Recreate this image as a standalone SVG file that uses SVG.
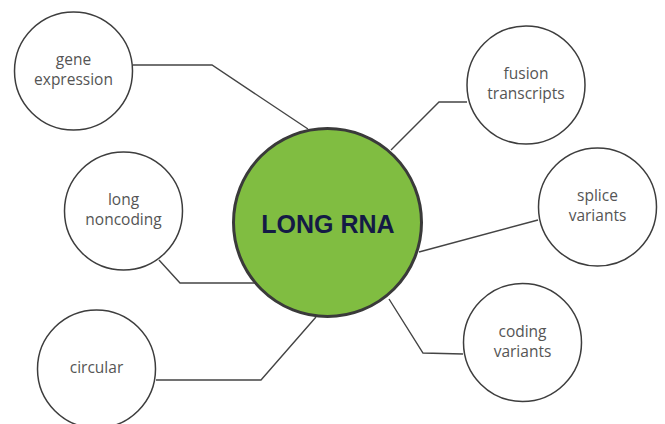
<svg xmlns="http://www.w3.org/2000/svg" width="665" height="424" viewBox="0 0 665 424">
<style>
.bubble{fill:#fff;stroke:#3d3d3d;stroke-width:1.5}
.hub{fill:#80bd41;stroke:#3a3a3a;stroke-width:3}
.lbl{font-family:"Open Sans","Liberation Sans",sans-serif;font-size:15.5px;fill:#555;text-anchor:middle}
.hubt{font-family:"Liberation Sans",Arial,sans-serif;font-size:25px;font-weight:bold;fill:#141a45;text-anchor:middle}
.con{fill:none;stroke:#444;stroke-width:1.4}
</style>
<rect width="665" height="424" fill="#fff"/>
<g id="connectors">
<polyline class="con" points="133,65 212,65 308,129"/>
<polyline class="con" points="159,260 180,283 255,283"/>
<polyline class="con" points="156,380 261,380 316,317"/>
<polyline class="con" points="391,150 439,102 467,102"/>
<polyline class="con" points="419,252 538,220"/>
<polyline class="con" points="389,299 423,353 463,354"/>
</g>
<g id="gene-expression">
<circle class="bubble" cx="73.5" cy="71" r="59"/>
<text class="lbl" x="73.5" y="65">gene</text>
<text class="lbl" x="73.5" y="85">expression</text>
</g>
<g id="long-noncoding">
<circle class="bubble" cx="123.5" cy="211" r="59"/>
<text class="lbl" x="123.5" y="205">long</text>
<text class="lbl" x="123.5" y="225">noncoding</text>
</g>
<g id="circular">
<circle class="bubble" cx="96.5" cy="369" r="59"/>
<text class="lbl" x="96.5" y="373">circular</text>
</g>
<g id="fusion-transcripts">
<circle class="bubble" cx="526" cy="85" r="59"/>
<text class="lbl" x="526" y="79">fusion</text>
<text class="lbl" x="526" y="99">transcripts</text>
</g>
<g id="splice-variants">
<circle class="bubble" cx="597.5" cy="207" r="59"/>
<text class="lbl" x="597.5" y="201">splice</text>
<text class="lbl" x="597.5" y="221">variants</text>
</g>
<g id="coding-variants">
<circle class="bubble" cx="522.5" cy="342.5" r="59"/>
<text class="lbl" x="522.5" y="337">coding</text>
<text class="lbl" x="522.5" y="357">variants</text>
</g>
<g id="long-rna">
<circle class="hub" cx="327.5" cy="222.5" r="94"/>
<text class="hubt" x="328" y="233">LONG RNA</text>
</g>
</svg>
